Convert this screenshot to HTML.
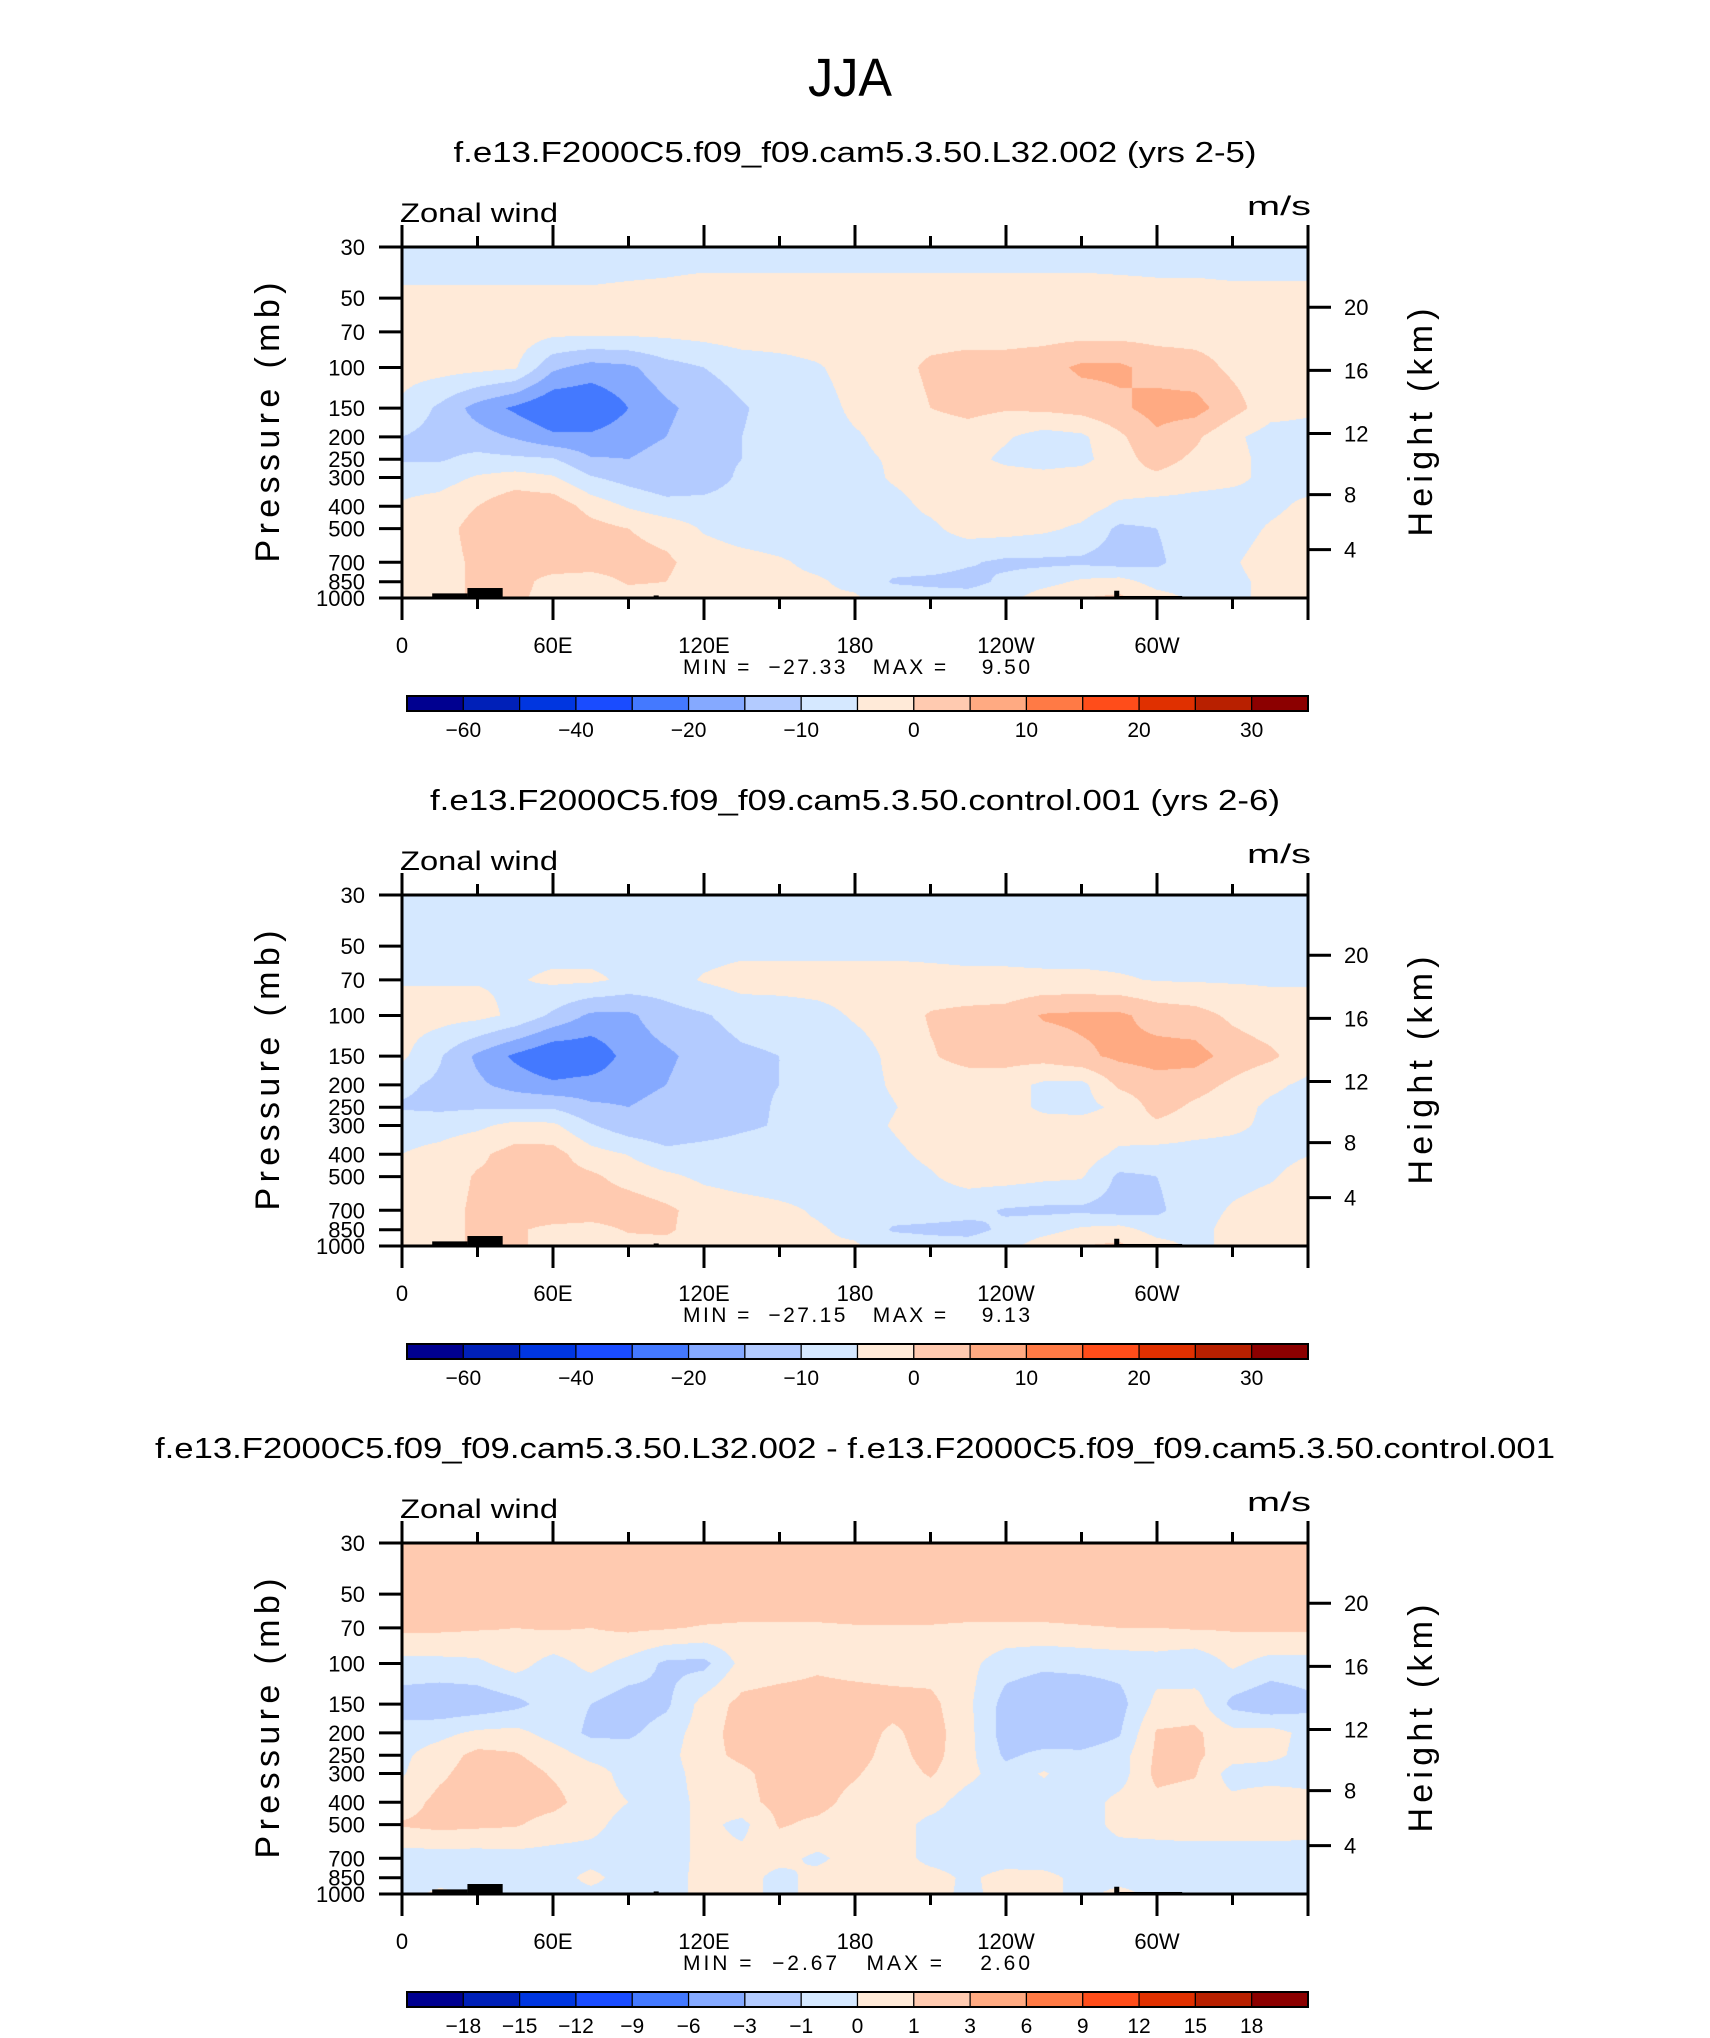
<!DOCTYPE html>
<html><head><meta charset="utf-8"><title>JJA Zonal wind</title>
<style>
html,body{margin:0;padding:0;background:#fff;}
#root{position:relative;width:1710px;height:2038px;overflow:hidden;background:#fff;}
canvas{position:absolute;}
svg{position:absolute;left:0;top:0;}
text{font-family:"Liberation Sans",sans-serif;fill:#000;}
.pre{white-space:pre;}
</style></head>
<body>
<div id="root">
<canvas id="c0" width="906" height="351" style="left:402px;top:247px"></canvas>
<canvas id="c1" width="906" height="351" style="left:402px;top:895px"></canvas>
<canvas id="c2" width="906" height="351" style="left:402px;top:1543px"></canvas>
<svg id="svg" width="1710" height="2038">
<text x="850" y="96" font-size="54" text-anchor="middle" textLength="84" lengthAdjust="spacingAndGlyphs">JJA</text>
</svg>
</div>
<script>
const lons=[0,15,30,45,60,75,90,105,120,135,150,165,180,195,210,225,240,255,270,285,300,315,330,345,360];
const levels=[30,50,70,100,150,200,250,300,400,500,700,850,1000];
const tickLons=[0,30,60,90,120,150,180,210,240,270,300,330,360];
const lonLabels=["0","","60E","","120E","","180","","120W","","60W","",""];
const heightTicks=[4,8,12,16,20];
const colors=["#000090","#0020b8","#0036e0","#1a4cff","#4479ff","#85a9ff","#b3cbff","#d5e8ff","#ffead8","#ffcab0","#ffaa82","#ff7a45","#ff4d1a","#e03000","#b82000","#8c0000"];
const bounds12=[-55,-45,-35,-25,-15,-10,-5,0,5,10,15,20,25,30,35];
const boundsDiff=[-18,-15,-12,-9,-6,-3,-1,0,1,3,6,9,12,15,18];
const cbLabels12=["-60","","-40","","-20","","-10","","0","","10","","20","","30"];
const cbLabelsDiff=["-18","-15","-12","-9","-6","-3","-1","0","1","3","6","9","12","15","18"];
const titles=["f.e13.F2000C5.f09_f09.cam5.3.50.L32.002 (yrs 2-5)","f.e13.F2000C5.f09_f09.cam5.3.50.control.001 (yrs 2-6)","f.e13.F2000C5.f09_f09.cam5.3.50.L32.002 - f.e13.F2000C5.f09_f09.cam5.3.50.control.001"];
const minVals=["-27.33","-27.15","-2.67"];
const maxVals=["9.50","9.13","2.60"];
// terrain: [lonStart, lonEnd, surfacePressure]
const terrain=[[12,26,955],[26,40,905],[100,102,975],[283,285,930],[285,310,980]];

const u1=[
[-3,-3,-3,-3,-3,-3,-3,-3,-3,-3,-3,-3,-3,-3,-3,-3,-3,-3,-3,-3,-3,-3,-3,-3,-3],
[1,1,1,1,1,1,1.5,2,3,3,3,3,3,3,3,3,3,3,3,2.5,2,2,1.5,1.5,1.5],
[3,3,3,3,1.5,1.5,1.5,1.5,2,3,3,3,3,3,3,3,3,3,3,3,3,3,3,3,3],
[2,2,1.5,0.5,-9,-12,-11,-7,-5,-3,-2,-0.5,2,3,6,7,7,8,11,11,8,7,4,2,2],
[-1,-6,-12,-16,-20,-20,-15,-11,-8,-5.5,-3,-2,1,2,5,6.5,5.5,6,7,9,12,12,7,2,1],
[-5,-7,-8,-10.5,-14,-14,-12,-10,-7,-5,-3,-2,-0.5,1.5,2,2.5,0.5,-2,-1,4,9,6,1,-2,-2],
[-5.5,-5.5,-3.5,-4,-4.5,-9.5,-10,-8,-7,-5,-3,-2,-1,0.5,2,1.5,-1,-2,-1.5,3,7,4,1.5,-1.5,-2],
[-2,-2,0.5,2,0.5,-4.5,-7,-9,-8,-4,-3,-2,-2,0.5,2,2.5,2,1.5,2.5,3.5,4,2,1,-1,-2],
[0.5,2,5,9,8.5,3,-0.5,-3,-3,-2.5,-2,-2,-2,-1.5,1,3,3,3,2.5,-1,-2,-2,-2,-1,1],
[1.5,3,7,9,10,7,5,3,-0.5,-2,-2.5,-2.5,-2.5,-2,-1,2,2,1,-1,-6,-5,-2,-2,0.5,2],
[2,3,6,7,8,7,7,6,2.5,1.5,0.5,-1,-2,-3,-3,-4.5,-6,-6,-6,-7,-6,-2,-0.5,2,3],
[2,3,6,7,3,3,5.5,5,2,2,1,0.5,-1,-5.5,-6,-6.5,-4,-2,1,2,-2,-2,-1,1,2],
[2,5,5,6,3,2,3,3,2,1.5,1,0.5,0.5,-2,-3,-3,-2,3,5,6,2,-1,-1,1,2]];
const u2=[
[-3,-3,-3,-3,-3,-3,-3,-3,-3,-3,-3,-3,-3,-3,-3,-3,-3,-3,-3,-3,-3,-3,-3,-3,-3],
[-2,-2,-2,-2,-2,-2,-2,-2,-2,-1.5,-1.5,-1.5,-1.5,-1.5,-1.5,-1.5,-1.5,-2,-2,-2,-2,-2,-2,-2,-2],
[-0.4,-0.4,-0.3,-0.5,1,1,-1,-2,0.5,2,2,2,2,2,1.5,1,1,1,1,0.5,-0.3,-0.5,-0.5,-0.5,-0.5],
[2,2,1.5,-1,-6,-11,-11,-7,-5.5,-3,-2.5,-1.5,0.5,2,5.5,6.5,7,10.5,11,11,8,7,4,2,2],
[1,-4.5,-11,-16,-20,-19,-13,-11,-8,-6,-5,-3,-2,1,4.5,7,7,7,9,11,12,12,8,6,2],
[-4,-6,-9,-12,-14,-13,-12,-10,-7,-6,-5,-3,-2,0.5,2,2,2,-1,-1.5,6,8,7,4,1,-1],
[-5.5,-6,-5.5,-5.5,-5.5,-9,-10,-8,-7.5,-6.5,-4.5,-3,-2,-0.3,2,2.5,2,-1,-1.5,1,7,4,2,-1,-2],
[-2,-2,-1,1.5,1,-4.5,-8,-9,-8,-6,-4.5,-3,-2,0.3,2.5,3,2.5,2,2,2.5,4,2,1,-1,-2],
[0,1.5,4,7,7,2,-0.2,-3.5,-2.5,-2,-2,-2,-2,-1,1,3,3,3,2.5,-1,-2,-2,-2,-1.5,-0.2],
[1.5,2.5,5.5,6,7,6,3,1,-1,-2,-2.5,-2.5,-2.5,-2,-0.5,2,2,1,0.5,-6,-5,-2,-1.5,-0.5,2],
[2,3,6,9,10,8,8,6,3,2,1,-0.5,-2,-3,-3,-3.5,-5.5,-6,-6,-7,-6,-2,0.5,2,3],
[2,3,6,6,3,3,5.5,6,2,1.5,1,0.5,-1,-5.5,-6,-6.5,-4,-2,1,2,-2,-1.5,1.5,2,2],
[2,5,5,6,3,2,3,3,2,1.5,1,0.5,0.5,-2,-3,-3,-2,3,5,6,2,-1,1,2,2]];
const ud=[
[2,2,2,2,2,2,2,2,2,2,2,2,2,2,2,2,2,2,2,2,2,2,2,2,2],
[2,2,2,2,2,2,2,2,2,2,2,2,2,2,2,2,2,2,2,2,2,2,2,2,2],
[1.2,1.2,1.1,1.0,1.1,1.0,1.2,1.1,0.9,0.8,0.8,0.8,0.9,0.9,0.9,0.8,0.8,0.8,0.9,1.0,1.0,1.1,1.1,1.2,1.2],
[-0.3,-0.3,-0.2,0.4,-0.4,0.3,-0.3,-1.2,-1.3,0.3,0.5,0.8,0.6,0.5,0.5,0.3,-0.6,-0.8,-0.7,-0.6,-0.5,-0.8,0.2,-0.4,-0.4],
[-1.6,-1.8,-1.7,-1.3,-0.5,-1.0,-1.6,-1.2,0.4,1.3,1.5,1.5,1.5,1.4,1.3,0.2,-1.4,-1.8,-1.8,-1.4,0.3,0.5,-1.3,-1.8,-1.3],
[-0.5,-0.3,0.2,0.3,-0.4,-1.2,-1.2,-0.5,0.5,1.5,1.6,1.6,1.5,0.8,1.5,0.3,-1.5,-1.8,-1.6,-1.1,1.1,1.2,0.3,0.4,-0.3],
[-0.2,0.5,1.3,1.1,0.5,-0.3,-0.5,-0.4,0.7,1.2,1.5,1.6,1.4,0.6,1.4,0.3,-1.2,-0.7,-0.8,-0.5,1.2,1.2,0.5,0.3,-0.4],
[-0.1,0.8,1.5,1.5,0.9,0.5,-0.4,-0.5,0.5,0.8,1.4,1.4,1.1,0.5,1.1,0.3,-0.6,0.1,-0.6,-0.5,1.3,1.1,-0.5,-0.6,-0.5],
[0.5,1.3,1.5,1.5,1.3,0.5,0.0,-0.5,0.3,0.7,1.3,1.3,0.7,0.5,0.4,-0.5,-0.5,-0.5,-0.5,0.3,0.7,0.5,0.3,0.8,0.4],
[1.1,1.3,1.2,1.1,0.6,0.3,-0.4,-0.5,0.3,-0.3,1.1,0.8,0.5,0.5,-0.3,-0.5,-0.5,-0.5,-0.5,0.3,0.4,0.5,0.5,0.5,0.4],
[-0.5,-0.5,-0.5,-0.4,-0.4,-0.4,-0.4,-0.5,0.3,0.3,0.3,-0.2,0.4,0.5,-0.3,-0.5,-0.5,-0.5,-0.5,-0.5,-0.5,-0.5,-0.5,-0.5,-0.5],
[-0.5,-0.5,-0.5,-0.5,-0.5,0.3,-0.5,-0.4,0.3,0.4,-0.3,0.3,0.5,0.5,0.4,-0.2,0.4,0.3,-0.3,-0.4,-0.3,-0.5,-0.5,-0.5,-0.5],
[-0.5,0.3,-0.3,-0.3,-0.4,-0.3,-0.4,-0.4,0.3,0.4,-0.3,0.3,0.5,0.5,0.3,-0.2,0.3,0.3,-0.3,0.3,-0.3,-0.5,-0.5,-0.5,-0.5]];

const fields=[u1,u2,ud];
const boundSets=[bounds12,bounds12,boundsDiff];
const cbLabelSets=[cbLabels12,cbLabels12,cbLabelsDiff];

const PX=402,PW=906,PH=351,PTOP=247,DY=648,P0=30,P1=1000;
function xOfLon(l){return PX+PW*l/360;}
function yOfP(p,top){return top+PH*Math.log(p/P0)/Math.log(P1/P0);}
function pOfZ(km){const z=km*1000;return z<=11000?1013.25*Math.pow(1-2.25577e-5*z,5.25588):226.32*Math.exp(-(z-11000)/6341.6);}
function colorIdx(v,b){let i=0;while(i<b.length&&v>=b[i])i++;return i;}
function hex(c){return [parseInt(c.substr(1,2),16),parseInt(c.substr(3,2),16),parseInt(c.substr(5,2),16)];}
const rgb=colors.map(hex);

fields.forEach((f,k)=>{
  const cv=document.getElementById('c'+k),ctx=cv.getContext('2d');
  const img=ctx.createImageData(PW,PH);const b=boundSets[k];
  const ly=levels.map(p=>yOfP(p,0));
  for(let py=0;py<PH;py++){
    const yy=py+0.5;let j=0;while(j<levels.length-2&&yy>ly[j+1])j++;
    const ty=Math.min(1,Math.max(0,(yy-ly[j])/(ly[j+1]-ly[j])));
    for(let px=0;px<PW;px++){
      const lon=(px+0.5)/PW*360;let i=Math.min(lons.length-2,Math.floor(lon/15));
      const tx=(lon-lons[i])/(lons[i+1]-lons[i]);
      const v=(f[j][i]*(1-tx)+f[j][i+1]*tx)*(1-ty)+(f[j+1][i]*(1-tx)+f[j+1][i+1]*tx)*ty;
      const c=rgb[colorIdx(v,b)];const o=(py*PW+px)*4;
      img.data[o]=c[0];img.data[o+1]=c[1];img.data[o+2]=c[2];img.data[o+3]=255;
    }
  }
  ctx.putImageData(img,0,0);
});

const svg=document.getElementById('svg');const NS='http://www.w3.org/2000/svg';
function mk(tag,attrs,txt){const e=document.createElementNS(NS,tag);for(const a in attrs)e.setAttribute(a,attrs[a]);if(txt!==undefined)e.textContent=txt;svg.appendChild(e);return e;}

for(let k=0;k<3;k++){
  const top=PTOP+DY*k,bot=top+PH;
  let e=mk('text',{x:855,y:162+DY*k,'font-size':29,'text-anchor':'middle'},titles[k]);
  if(k===0){e.setAttribute('textLength',803);}
  if(k===1){e.setAttribute('textLength',850);}
  if(k===2){e.setAttribute('textLength',1400);}
  e.setAttribute('lengthAdjust','spacingAndGlyphs');
  
  
  e=mk('text',{x:400,y:222+DY*k,'font-size':27,textLength:158,lengthAdjust:'spacingAndGlyphs'},'Zonal wind');
  
  
  e=mk('text',{x:1311,y:215+DY*k,'font-size':27,'text-anchor':'end',textLength:64,lengthAdjust:'spacingAndGlyphs'},'m/s');
  
  
  terrain.forEach(t=>{
    const r=mk('rect',{x:xOfLon(t[0]),y:yOfP(t[2],top),width:xOfLon(t[1])-xOfLon(t[0]),height:bot-yOfP(t[2],top),fill:'#000'});
    
    
  });
  e=mk('rect',{x:PX,y:top,width:PW,height:PH,fill:'none',stroke:'#000','stroke-width':3});
  
  
  tickLons.forEach((l,i)=>{
    const x=xOfLon(l),len=(l%60===0)?22:11;
    let t=mk('line',{x1:x,x2:x,y1:top,y2:top-len,stroke:'#000','stroke-width':3});
    
    
    t=mk('line',{x1:x,x2:x,y1:bot,y2:bot+len,stroke:'#000','stroke-width':3});
    
    
    if(lonLabels[i]){
      t=mk('text',{x:x,y:bot+55,'font-size':22,'text-anchor':'middle'},lonLabels[i]);
      
      
    }
  });
  levels.forEach(p=>{
    const y=yOfP(p,top);
    let t=mk('line',{x1:PX,x2:PX-23,y1:y,y2:y,stroke:'#000','stroke-width':3});
    
    
    t=mk('text',{x:365,y:y+8,'font-size':22,'text-anchor':'end'},String(p));
    
    
  });
  heightTicks.forEach(h=>{
    const y=yOfP(pOfZ(h),top);
    let t=mk('line',{x1:PX+PW,x2:PX+PW+23,y1:y,y2:y,stroke:'#000','stroke-width':3});
    
    
    t=mk('text',{x:1344,y:y+8,'font-size':22},String(h));
    
    
  });
  const cy=top+PH/2;
  e=mk('text',{x:0,y:0,'font-size':34,'text-anchor':'middle',transform:'translate(279,'+cy+') rotate(-90)',textLength:280,lengthAdjust:'spacing'},'Pressure (mb)');
  
  
  e=mk('text',{x:0,y:0,'font-size':34,'text-anchor':'middle',transform:'translate(1432,'+cy+') rotate(-90)',textLength:228,lengthAdjust:'spacing'},'Height (km)');
  
  
  e=mk('text',{x:683,y:bot+76,'font-size':21,'class':'pre',textLength:347,lengthAdjust:'spacing'},'MIN =  '+minVals[k].replace('-','\u2212')+'   MAX =    '+maxVals[k]);
  
  
  const cbx=407,cbw=901,cby=top+449,bw=cbw/16;
  colors.forEach((c,i)=>{
    const r=mk('rect',{x:cbx+bw*i,y:cby,width:bw,height:15,fill:c,stroke:'#000','stroke-width':1.2});
    
    
  });
  e=mk('rect',{x:cbx,y:cby,width:cbw,height:15,fill:'none',stroke:'#000','stroke-width':2});
  
  
  cbLabelSets[k].forEach((s,i)=>{
    if(!s)return;
    const t=mk('text',{x:cbx+bw*(i+1),y:cby+41,'font-size':21,'text-anchor':'middle'},s.replace('-','\u2212'));
    
    
  });
}
</script>
</body></html>
